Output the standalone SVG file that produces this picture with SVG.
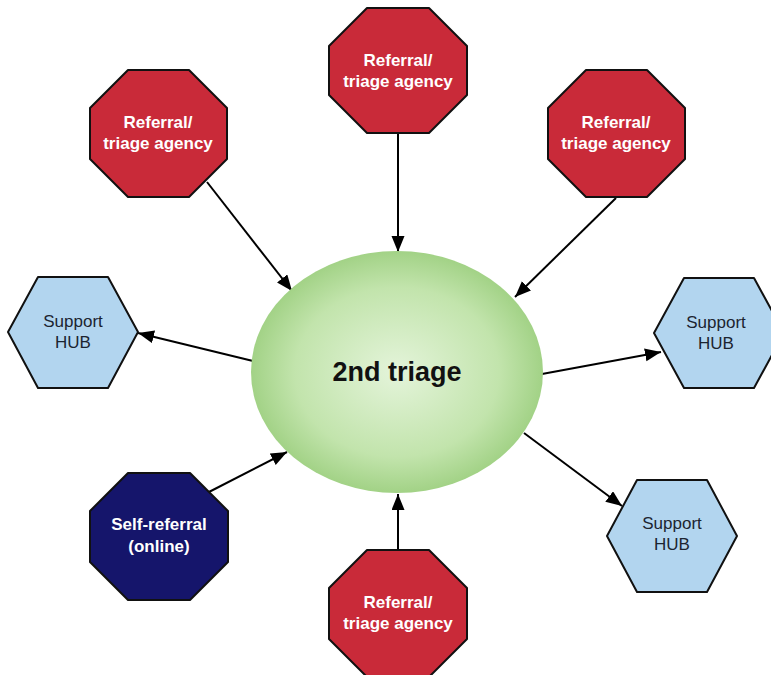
<svg xmlns="http://www.w3.org/2000/svg" width="771" height="675" viewBox="0 0 771 675">
  <defs>
    <radialGradient id="triageFill" cx="50%" cy="50%" r="50%">
      <stop offset="0" stop-color="#e4f4da"/>
      <stop offset="0.7" stop-color="#c2e4ac"/>
      <stop offset="1" stop-color="#a2d286"/>
    </radialGradient>
    <marker id="arrow" markerUnits="userSpaceOnUse" markerWidth="18" markerHeight="14" refX="16" refY="6.5" orient="auto">
      <path d="M0,0 L16,6.5 L0,13 Z" fill="#000"/>
    </marker>
  </defs>
  <style>
    .oct { stroke: #111; stroke-width: 2; stroke-linejoin: round; }
    .red { fill: #c92a39; }
    .navy { fill: #15156b; }
    .hex { fill: #b2d5ef; stroke: #111; stroke-width: 2; stroke-linejoin: round; }
    .wt { font-family: "Liberation Sans", Arial, sans-serif; font-size: 17px; font-weight: bold; fill: #fff; text-anchor: middle; }
    .ht { font-family: "Liberation Sans", Arial, sans-serif; font-size: 17px; fill: #1c2430; text-anchor: middle; }
    .ct { font-family: "Liberation Sans", Arial, sans-serif; font-size: 27px; font-weight: bold; fill: #111; text-anchor: middle; }
    .link { stroke: #000; stroke-width: 2; fill: none; marker-end: url(#arrow); }
  </style>

  <rect width="771" height="675" fill="#fff"/>

  <g id="connectors">
    <line class="link" x1="207" y1="182" x2="292" y2="291"/>
    <line class="link" x1="398" y1="134" x2="398" y2="252"/>
    <line class="link" x1="616" y1="198" x2="515" y2="297"/>
    <line class="link" x1="253" y1="361" x2="138" y2="333"/>
    <line class="link" x1="542" y1="374" x2="661" y2="352"/>
    <line class="link" x1="524" y1="433" x2="622" y2="506"/>
    <line class="link" x1="207" y1="493" x2="287" y2="452"/>
    <line class="link" x1="398" y1="550" x2="398" y2="494"/>
  </g>

  <g id="triage">
    <ellipse cx="397" cy="372" rx="146" ry="121" fill="url(#triageFill)"/>
    <text class="ct" x="397" y="381">2nd triage</text>
  </g>

  <g id="referral-top-left">
    <polygon class="oct red" points="128,70 189,70 227,108 227,159 189,197 128,197 90,159 90,108"/>
    <text class="wt" x="158" y="128">Referral/</text>
    <text class="wt" x="158" y="149">triage agency</text>
  </g>

  <g id="referral-top">
    <polygon class="oct red" points="367,8 429,8 467,46 467,95 429,133 367,133 329,95 329,46"/>
    <text class="wt" x="398" y="66">Referral/</text>
    <text class="wt" x="398" y="87">triage agency</text>
  </g>

  <g id="referral-top-right">
    <polygon class="oct red" points="586,70 647,70 685,108 685,159 647,197 586,197 548,159 548,108"/>
    <text class="wt" x="616" y="128">Referral/</text>
    <text class="wt" x="616" y="149">triage agency</text>
  </g>

  <g id="referral-bottom">
    <polygon class="oct red" points="367,550 429,550 467,588 467,639 429,677 367,677 329,639 329,588"/>
    <text class="wt" x="398" y="608">Referral/</text>
    <text class="wt" x="398" y="629">triage agency</text>
  </g>

  <g id="self-referral">
    <polygon class="oct navy" points="128,473 190,473 228,511 228,562 190,600 128,600 90,562 90,511"/>
    <text class="wt" x="159" y="530">Self-referral</text>
    <text class="wt" x="159" y="552">(online)</text>
  </g>

  <g id="hub-left">
    <polygon class="hex" points="38,277 108,277 138,332 108,388 38,388 8,332"/>
    <text class="ht" x="73" y="327">Support</text>
    <text class="ht" x="73" y="348">HUB</text>
  </g>

  <g id="hub-right">
    <polygon class="hex" points="684,278 754,278 784,333 754,388 684,388 654,333"/>
    <text class="ht" x="716" y="328">Support</text>
    <text class="ht" x="716" y="349">HUB</text>
  </g>

  <g id="hub-bottom-right">
    <polygon class="hex" points="637,480 707,480 737,536 707,592 637,592 607,536"/>
    <text class="ht" x="672" y="529">Support</text>
    <text class="ht" x="672" y="550">HUB</text>
  </g>
</svg>
